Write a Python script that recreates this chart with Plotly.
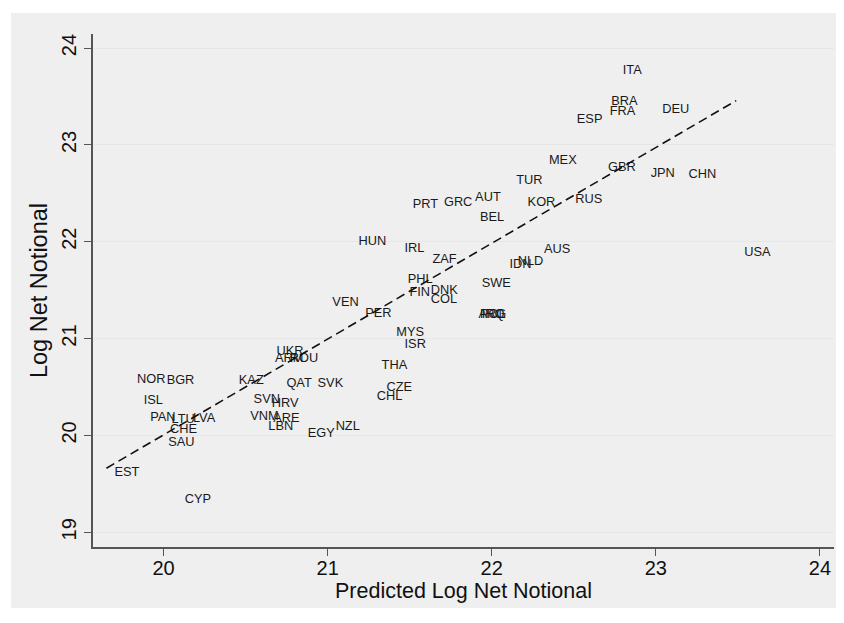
import numpy as np
import plotly.graph_objects as go

countries = ["EST", "CYP", "NOR", "BGR", "ISL", "PAN", "LTU", "LVA", "CHE", "SAU",
             "KAZ", "QAT", "SVK", "SVN", "HRV", "VNM", "ARE", "LBN", "EGY", "NZL",
             "CZE", "CHL", "THA", "UKR", "ARM", "ROU", "MYS", "ISR", "PER", "VEN",
             "COL", "FIN", "DNK", "PHL", "ZAF", "IRL", "HUN", "SWE", "ARG", "IRQ",
             "POL", "IDN", "NLD", "AUS", "USA", "BEL", "PRT", "GRC", "AUT", "KOR",
             "RUS", "TUR", "MEX", "GBR", "JPN", "CHN", "ESP", "FRA", "BRA", "DEU",
             "ITA"]

predicted = [19.652, 20.08, 19.79, 19.97, 19.83, 19.87, 20.00, 20.13, 19.99, 19.98,
             20.41, 20.70, 20.89, 20.50, 20.61, 20.48, 20.62, 20.59, 20.83, 21.00,
             21.31, 21.25, 21.28, 20.64, 20.63, 20.72, 21.37, 21.42, 21.18, 20.98,
             21.58, 21.45, 21.58, 21.44, 21.59, 21.42, 21.14, 21.89, 21.87, 21.89,
             21.88, 22.06, 22.11, 22.27, 23.49, 21.88, 21.47, 21.66, 21.85, 22.17,
             22.46, 22.10, 22.30, 22.66, 22.92, 23.15, 22.47, 22.67, 22.68, 22.99,
             22.75]

actual = [19.615, 19.34, 20.57, 20.56, 20.36, 20.18, 20.16, 20.17, 20.06, 19.92,
          20.56, 20.53, 20.53, 20.37, 20.33, 20.19, 20.17, 20.09, 20.02, 20.09,
          20.49, 20.40, 20.72, 20.86, 20.79, 20.79, 21.06, 20.94, 21.26, 21.37,
          21.40, 21.47, 21.49, 21.61, 21.81, 21.93, 22.00, 21.57, 21.25, 21.25,
          21.25, 21.76, 21.79, 21.92, 21.89, 22.25, 22.38, 22.40, 22.45, 22.40,
          22.43, 22.63, 22.84, 22.76, 22.70, 22.69, 23.26, 23.34, 23.44, 23.36,
          23.77]

x_ticks = [20, 21, 22, 23, 24]
y_ticks = [19, 20, 21, 22, 23, 24]

# linear fit of actual on predicted (lfit)
slope, intercept = np.polyfit(predicted, actual, 1)
fx = np.array([min(predicted), max(predicted)])
fy = intercept + slope * fx

FONT = "Liberation Sans, Arial, sans-serif"

fig = go.Figure()
fig.add_trace(go.Scatter(
    x=predicted, y=actual, mode="markers+text", text=countries,
    textposition="middle right",
    textfont=dict(family=FONT, size=12.8, color="#1a1a1a"),
    marker=dict(size=11.2, color="rgba(0,0,0,0)"),
    showlegend=False, hoverinfo="text+x+y"))
fig.add_trace(go.Scatter(
    x=fx, y=fy, mode="lines",
    line=dict(color="#111111", width=1.6, dash="9px,5px"),
    showlegend=False, hoverinfo="skip"))

fig.add_shape(type="rect", xref="paper", yref="paper",
              x0=-0.1107, x1=1.03, y0=-0.1189, y1=1.0409,
              fillcolor="#efefef", line=dict(width=0), layer="below")

fig.update_layout(
    width=836, height=615,
    margin=dict(l=85, r=10, t=26, b=76),
    paper_bgcolor="white", plot_bgcolor="white",
    font=dict(family=FONT, color="#111111"),
    xaxis=dict(range=[19.570, 24.086], tickvals=x_ticks,
               ticktext=[str(v) for v in x_ticks],
               showgrid=False, zeroline=False,
               showline=True, linecolor="#555555", linewidth=1.5,
               ticks="outside", ticklen=7, tickcolor="#555555", tickwidth=1.2,
               ticklabelstandoff=-5,
               tickfont=dict(size=20, family=FONT, color="#111111"),
               title=dict(text="Predicted Log Net Notional",
                          font=dict(size=21.5, family=FONT, color="#111111"),
                          standoff=3)),
    yaxis=dict(range=[18.848, 24.145], tickvals=y_ticks,
               ticktext=[str(v) for v in y_ticks],
               showgrid=True, gridcolor="#e6e6e6", gridwidth=1.2,
               zeroline=False,
               showline=True, linecolor="#555555", linewidth=1.5,
               ticks="outside", ticklen=7, tickcolor="#555555", tickwidth=1.2,
               tickangle=-90,
               tickfont=dict(size=20, family=FONT, color="#111111"),
               title=dict(text="Log Net Notional",
                          font=dict(size=23.5, family=FONT, color="#111111"),
                          standoff=4)),
)

fig.write_html("out.html")
